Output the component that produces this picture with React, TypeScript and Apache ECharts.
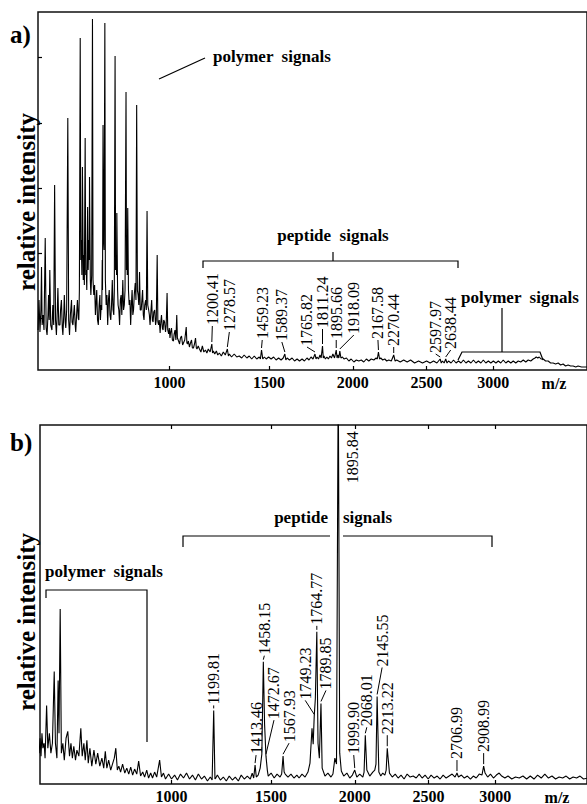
import { useEffect, useRef } from 'react';
import * as echarts from 'echarts';

// ---------- panel a) spectrum: [m/z, intensity] ----------
const spectrumA: [number, number][] = [
  [494,40],[497,70],[500,38],[503,60],[505,103],[507,45],[510,55],[513,40],[517,132],[520,42],[523,35],[526,55],[528,75],[530,50],[532,100],[535,45],[539,40],[542,65],[545,45],[548,185],[551,50],[554,35],[557,60],[559,82],[562,45],[566,45],[568,60],[571,70],[574,42],[576,35],[579,55],[581,75],[584,48],[586,42],[589,60],[593,252],[596,50],[599,35],[602,55],[606,70],[608,48],[611,45],[614,58],[616,65],[619,45],[621,38],[624,55],[627,70],[630,52],[632,50],[634,80],[637,332],[639,110],[641,130],[643,95],[645,203],[648,90],[650,115],[652,85],[655,232],[657,95],[659,100],[661,80],[664,163],[666,100],[668,130],[670,110],[671,193],[674,90],[676,75],[679,95],[682,351],[684,90],[687,75],[690,85],[693,55],[696,70],[698,80],[701,50],[704,45],[707,65],[710,75],[712,50],[715,65],[717,60],[719,110],[720,80],[722,245],[724,130],[726,120],[729,347],[731,90],[734,65],[737,75],[740,45],[743,70],[746,80],[749,55],[752,50],[755,65],[758,90],[761,60],[764,55],[766,80],[769,314],[771,100],[773,115],[775,95],[776,157],[779,80],[781,65],[784,60],[787,45],[790,70],[793,75],[796,55],[800,90],[803,60],[806,65],[809,80],[813,278],[815,100],[817,115],[818,95],[820,162],[823,80],[826,65],[829,70],[832,45],[835,65],[838,80],[841,55],[844,60],[847,75],[851,87],[854,70],[857,265],[860,80],[863,75],[866,65],[869,98],[872,60],[876,60],[879,70],[882,80],[885,55],[888,50],[891,65],[895,70],[898,60],[901,159],[904,65],[908,60],[911,55],[914,45],[918,60],[921,70],[924,50],[927,48],[930,58],[934,60],[938,45],[941,50],[945,115],[948,48],[951,45],[954,50],[958,37],[961,48],[964,55],[968,42],[971,40],[974,50],[978,48],[982,38],[985,45],[989,77],[992,40],[996,36],[999,42],[1002,32],[1005,38],[1009,42],[1013,30],[1018,29],[1021,36],[1025,40],[1029,30],[1033,55],[1036,32],[1039,32],[1043,28],[1046,26],[1050,32],[1055,34],[1060,25],[1064,27],[1070,30],[1077,43],[1080,27],[1083,26],[1087,29],[1092,23],[1097,27],[1102,30],[1106,22],[1111,22],[1116,26],[1121,32],[1125,22],[1128,21],[1134,24],
  [1140,21],[1147,18],[1154,24],[1161,18],[1169,20],[1176,17],[1183,21],[1192,18],[1200.41,26],[1204,17],[1208,19],[1215,16],[1223,19],[1230,15],[1238,17],[1248,14],[1258,18],[1268,15],[1278.57,21],[1284,14],[1289,16],[1300,13],[1314,16],[1327,13],[1340,14],[1353,12],[1366,15],[1380,12],[1393,14],[1406,11],[1420,14],[1433,11],[1447,13],[1453,11],[1459.23,20],[1466,11],[1475,13],[1485,11],[1498,13],[1512,11],[1526,13],[1540,10],[1554,12],[1568,10],[1580,12],[1589.37,16],[1595,10],[1602,12],[1616,10],[1631,12],[1645,9],[1660,11],[1674,9],[1689,11],[1703,9],[1718,12],[1730,10],[1742,13],[1754,11],[1765.82,16],[1772,11],[1778,13],[1787,11],[1796,15],[1803,12],[1811.24,24],[1816,12],[1820,14],[1829,11],[1838,13],[1847,11],[1857,14],[1866,12],[1875,16],[1885,12],[1895.66,20],[1901,12],[1906,15],[1912,12],[1918.09,19],[1925,12],[1935,13],[1944,11],[1960,12],[1975,9],[1990,11],[2007,8],[2023,10],[2039,9],[2055,10],[2071,8],[2088,11],[2104,9],[2120,11],[2137,10],[2152,12],[2160,11],[2167.58,18],[2175,11],[2183,12],[2196,10],[2210,11],[2223,9],[2237,10],[2254,9],[2270.44,15],[2280,9],[2291,10],[2315,8],[2339,10],[2363,8],[2387,10],[2415,7],[2443,9],[2471,7],[2500,9],[2525,7],[2550,9],[2574,7],[2597.97,11],[2606,7],[2615,9],[2627,7],[2638.44,11],[2648,7],[2659,9],[2678,7],[2696,10],[2715,7],[2733,9],[2752,7],[2770,10],[2789,7],[2808,9],[2827,7],[2846,10],[2865,7],[2884,9],[2903,7],[2922,10],[2941,7],[2961,9],[2980,7],[3000,9],[3020,7],[3039,9],[3058,7],[3078,10],[3098,7],[3118,9],[3138,7],[3158,9],[3178,7],[3198,9],[3218,8],[3239,10],[3259,8],[3279,10],[3300,9],[3320,11],[3335,12],[3345,13],[3358,12],[3370,13],[3385,11],[3403,11],[3423,9],[3444,9],[3465,7],[3486,7],[3507,6],[3529,7],[3550,5],[3571,6],[3592,4],[3614,5],[3635,4],[3657,4],[3680,3],[3700,4],[3730,3],[3760,3],[3778,3]
];
const peaksA = [1200.41, 1278.57, 1459.23, 1589.37, 1765.82, 1811.24, 1895.66, 1918.09, 2167.58, 2270.44, 2597.97, 2638.44];

// ---------- panel b) spectrum: [m/z, intensity] ----------
const spectrumB: [number, number][] = [
  [491,31],[494,46],[497,28],[500,51],[503,36],[507,41],[510,26],[515,79],[519,36],[524,51],[529,31],[534,41],[540,113],[544,41],[549,26],[553,104],[556,51],[560,176],[564,31],[569,41],[574,24],[580,46],[586,53],[592,28],[597,41],[602,26],[607,38],[613,24],[618,34],[625,28],[632,56],[637,28],[643,41],[648,24],[654,44],[659,21],[665,36],[672,18],[680,34],[687,20],[694,31],[702,18],[710,26],[717,16],[723,33],[729,16],[736,24],[744,14],[752,21],[758,26],[764,36],[770,14],[776,18],[783,12],[791,20],[800,11],[808,16],[816,10],[824,17],[832,9],[840,15],[849,10],[857,23],[865,8],[874,12],[882,7],[891,14],[899,6],[908,11],[916,6],[925,12],[934,7],[947,24],[955,7],[964,11],[973,5],[987,10],[1000,5],[1014,9],[1027,4],[1041,10],[1055,6],[1069,11],[1083,5],[1097,9],[1111,4],[1125,10],[1140,5],[1154,8],[1169,3],[1183,7],[1192,4],[1199.81,74],[1206,5],[1210,6],[1218,9],[1233,4],[1248,7],[1263,3],[1278,8],[1294,4],[1309,7],[1325,3],[1340,9],[1356,5],[1372,8],[1388,5],[1398,11],[1406,6],[1413.46,19],[1420,7],[1430,9],[1441,16],[1450,30],[1458.15,123],[1465,60],[1472.67,28],[1480,14],[1485,8],[1501,11],[1518,6],[1534,10],[1551,7],[1560,10],[1567.93,28],[1574,12],[1580,10],[1596,7],[1613,10],[1630,6],[1647,9],[1660,6],[1677,10],[1695,7],[1712,12],[1724,21],[1736,56],[1743,40],[1749.23,68],[1756,86],[1764.77,153],[1772,41],[1780,26],[1789.85,81],[1797,16],[1814,8],[1832,11],[1851,7],[1863,10],[1875,26],[1885,20],[1895.84,420],[1905,31],[1915,13],[1930,8],[1950,11],[1968,6],[1985,9],[1999.9,14],[2013,7],[2032,10],[2052,7],[2060,12],[2068.01,49],[2078,14],[2097,8],[2117,12],[2130,14],[2138,20],[2145.55,88],[2157,12],[2170,8],[2183,11],[2197,9],[2206,14],[2213.22,36],[2228,11],[2247,7],[2267,10],[2287,6],[2307,9],[2328,5],[2349,10],[2370,7],[2391,8],[2412,6],[2433,10],[2454,6],[2475,9],[2497,5],[2518,9],[2540,6],[2562,8],[2583,5],[2605,9],[2627,6],[2649,8],[2671,10],[2693,7],[2706.99,11],[2718,7],[2740,9],[2762,6],[2785,8],[2808,5],[2830,8],[2852,6],[2875,10],[2896,9],[2908.99,18],[2920,11],[2940,7],[2962,10],[2985,6],[3008,9],[3030,11],[3050,8],[3075,6],[3100,8],[3130,5],[3160,7],[3190,6],[3220,8],[3250,5],[3280,8],[3310,5],[3340,9],[3370,6],[3400,10],[3430,6],[3460,8],[3490,5],[3520,7],[3550,6],[3580,8],[3610,5],[3640,7],[3670,6],[3700,8],[3730,5],[3770,6]
];
const peaksB = [1199.81, 1413.46, 1458.15, 1472.67, 1567.93, 1749.23, 1764.77, 1789.85, 1895.84, 1999.9, 2068.01, 2145.55, 2213.22, 2706.99, 2908.99];

const xTickValues = [1000, 1500, 2000, 2500, 3000];
const yTickValuesA = [52, 117, 182, 247, 313];

// ---------- layout (pixel offsets of labels from their peak tops) ----------
const labelOffsetA: [number, number][] = [[0.5,18],[2,17],[0.7,10],[-3,12],[-8,7],[0,17],[0,10],[14,16],[-0.5,12],[0,8],[-4.5,5],[5,9]];
const labelOffsetB: [number, number][] = [[0,5],[1,10],[1,6],[8,36],[6,13],[-9,16],[0,6],[5,13],[14,-118],[-1,15],[1.5,8],[5,29],[0,13],[0,13],[0,13]];
const noLeaderB = [1895.84];

const SERIF = '"Liberation Serif", "Times New Roman", serif';
const PX_PER_SQRT = 14.04;
const X_MIN = Math.sqrt(1000) - 132 / PX_PER_SQRT;

function annotSeries(peaks: number[], spectrum: [number, number][], offsets: [number, number][], noLeader: number[], idx: number) {
  return {
    type: 'custom',
    xAxisIndex: idx === 0 ? 0 : 1,
    yAxisIndex: idx,
    coordinateSystem: 'cartesian2d',
    clip: false,
    silent: true,
    z: 5,
    data: peaks.map((m) => {
      const pt = spectrum.find((p) => p[0] === m);
      return [Math.sqrt(m), pt ? pt[1] : 0];
    }),
    renderItem: (params: any, api: any) => {
      const i = params.dataIndex;
      const p = api.coord([api.value(0), api.value(1)]);
      const [dx, dy] = offsets[i];
      const tx = p[0] + dx;
      const ty = p[1] - dy;
      const children: any[] = [];
      if (!noLeader.includes(peaks[i])) {
        children.push({
          type: 'line',
          shape: { x1: p[0], y1: p[1] - 2, x2: tx, y2: ty },
          style: { stroke: '#000', lineWidth: 1 },
        });
      }
      children.push({
        type: 'text',
        x: tx,
        y: ty - 1,
        rotation: Math.PI / 2,
        style: {
          text: peaks[i].toFixed(2),
          font: `16px ${SERIF}`,
          fill: '#000',
          align: 'left',
          verticalAlign: 'middle',
          textAlign: 'left',
          textVerticalAlign: 'middle',
        },
      });
      return { type: 'group', children };
    },
  };
}

function txt(x: number, y: number, text: string, size: number, opts: any = {}) {
  return {
    type: 'text',
    x,
    y,
    rotation: opts.rotation || 0,
    z: 10,
    style: {
      text,
      font: `bold ${size}px ${SERIF}`,
      fill: '#000',
      align: opts.align || 'left',
      verticalAlign: 'middle',
      textAlign: opts.align || 'left',
      textVerticalAlign: 'middle',
    },
  };
}

function pl(points: number[][]) {
  return { type: 'polyline', z: 10, shape: { points }, style: { stroke: '#000', lineWidth: 1.2, fill: null } };
}

export default function App() {
  const ref = useRef<HTMLDivElement>(null);
  useEffect(() => {
    const chart = echarts.init(ref.current!, null, { renderer: 'svg' });
    const tickS = xTickValues.map((v) => Math.sqrt(v));
    const xLabel = {
      customValues: tickS,
      formatter: (v: number) => String(Math.round(v * v)),
      color: '#000',
      fontFamily: SERIF,
      fontWeight: 'bold',
      fontSize: 16,
      margin: 4,
    };
    const option: any = {
      animation: false,
      backgroundColor: '#fff',
      grid: [
        { left: 38, top: 12, width: 551, height: 358, show: true, borderColor: '#111', borderWidth: 1.5, backgroundColor: 'transparent' },
        { left: 40, top: 425, width: 549, height: 361, show: true, borderColor: '#111', borderWidth: 1.5, backgroundColor: 'transparent' },
      ],
      xAxis: [
        {
          type: 'value', gridIndex: 0, min: X_MIN, max: X_MIN + 551 / PX_PER_SQRT,
          axisLine: { show: false }, splitLine: { show: false },
          axisTick: { show: true, inside: true, length: 4, customValues: tickS, lineStyle: { color: '#000', width: 1.2 } },
          axisLabel: xLabel,
        },
        {
          type: 'value', gridIndex: 1, min: X_MIN, max: X_MIN + 549 / PX_PER_SQRT,
          axisLine: { show: false }, splitLine: { show: false },
          axisTick: { show: true, inside: true, length: 4, customValues: tickS, lineStyle: { color: '#000', width: 1.2 } },
          axisLabel: xLabel,
        },
        {
          type: 'value', gridIndex: 1, position: 'top', min: X_MIN, max: X_MIN + 549 / PX_PER_SQRT,
          axisLine: { show: false }, splitLine: { show: false },
          axisTick: { show: true, inside: true, length: 4, customValues: tickS, lineStyle: { color: '#000', width: 1.2 } },
          axisLabel: { show: false },
        },
      ],
      yAxis: [
        {
          type: 'value', gridIndex: 0, min: 0, max: 358,
          axisLine: { show: false }, splitLine: { show: false }, axisLabel: { show: false },
          axisTick: { show: true, inside: true, length: 4, customValues: yTickValuesA, lineStyle: { color: '#000', width: 1.2 } },
        },
        {
          type: 'value', gridIndex: 1, min: 0, max: 361,
          axisLine: { show: false }, splitLine: { show: false }, axisLabel: { show: false }, axisTick: { show: false },
        },
      ],
      series: [
        {
          type: 'line', xAxisIndex: 0, yAxisIndex: 0, symbol: 'none', silent: true, clip: true,
          lineStyle: { color: '#000', width: 1.1 },
          data: spectrumA.map(([m, v]) => [Math.sqrt(m), v]),
        },
        {
          type: 'line', xAxisIndex: 1, yAxisIndex: 1, symbol: 'none', silent: true, clip: true,
          lineStyle: { color: '#000', width: 1.1 },
          data: spectrumB.map(([m, v]) => [Math.sqrt(m), v]),
        },
        annotSeries(peaksA, spectrumA, labelOffsetA, [], 0),
        annotSeries(peaksB, spectrumB, labelOffsetB, noLeaderB, 1),
      ],
      graphic: [
        txt(10, 34, 'a)', 25),
        txt(10, 442, 'b)', 25),
        txt(26, 202, 'relative intensity', 25, { rotation: Math.PI / 2, align: 'center' }),
        txt(26, 622, 'relative intensity', 25, { rotation: Math.PI / 2, align: 'center' }),
        txt(554, 383, 'm/z', 16, { align: 'center' }),
        txt(557, 797, 'm/z', 16, { align: 'center' }),
        // panel a annotations
        txt(213, 56, 'polymer  signals', 17),
        pl([[159, 79], [205, 58]]),
        txt(333, 235, 'peptide  signals', 17, { align: 'center' }),
        pl([[203, 268], [203, 261], [458, 261], [458, 268]]),
        pl([[333, 261], [333, 252]]),
        txt(461, 297, 'polymer  signals', 17),
        pl([[458, 360], [462, 352], [540, 352], [543, 360]]),
        pl([[502, 352], [502, 308]]),
        // panel b annotations
        txt(45, 571, 'polymer  signals', 17),
        pl([[46, 598], [46, 590], [147, 590], [147, 742]]),
        txt(328, 517, 'peptide', 17, { align: 'right' }),
        txt(343, 517, 'signals', 17),
        pl([[183, 547], [183, 536], [330, 536]]),
        pl([[343, 536], [492, 536], [492, 547]]),
      ],
    };
    chart.setOption(option);
    return () => chart.dispose();
  }, []);
  return <div ref={ref} style={{ position: 'absolute', left: 0, top: 0, width: 587, height: 804, background: '#fff' }} />;
}
